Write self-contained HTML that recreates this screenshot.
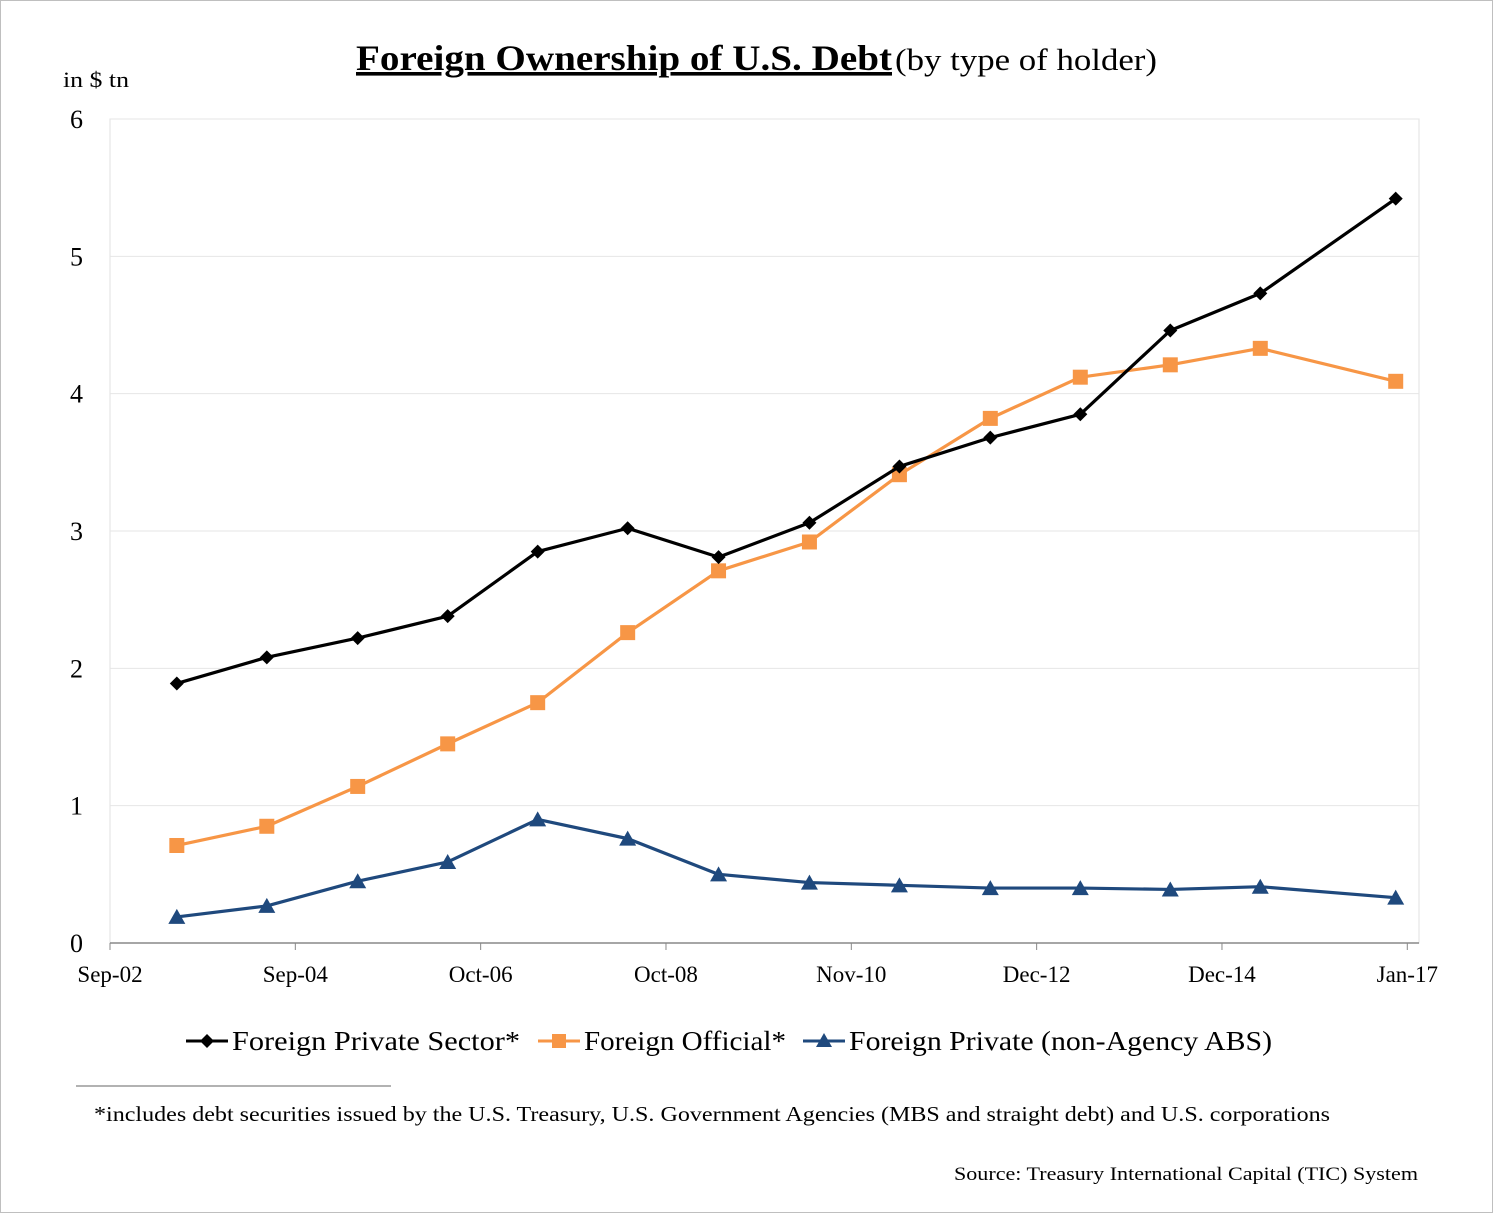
<!DOCTYPE html>
<html><head><meta charset="utf-8"><style>
html,body{margin:0;padding:0;background:#fff}
svg{display:block}
text{font-family:"Liberation Serif","DejaVu Serif",serif;fill:#000}
</style></head><body>
<svg id="chart" width="1493" height="1213" viewBox="0 0 1493 1213" xmlns="http://www.w3.org/2000/svg">
<rect x="0.5" y="0.5" width="1492" height="1212" fill="#fff" stroke="#bfbfbf"/>
<text x="356" y="70" font-size="36" font-weight="bold" text-decoration="underline" textLength="536" lengthAdjust="spacingAndGlyphs">Foreign Ownership of U.S. Debt</text>
<text x="895" y="70" font-size="31" textLength="262" lengthAdjust="spacingAndGlyphs">(by type of holder)</text>
<text x="63" y="87" font-size="22" textLength="66" lengthAdjust="spacingAndGlyphs">in $ tn</text>
<rect x="110" y="119" width="1309" height="824" fill="none" stroke="#e0e0e0"/>
<g id="grid"></g><g id="axes"></g><g id="series"></g>
<g>
 <g>
  <line x1="186" y1="1041" x2="228" y2="1041" stroke="#000" stroke-width="3"/>
  <path d="M207 1034 L214 1041 L207 1048 L200 1041Z" fill="#000"/>
  <text x="232" y="1050" font-size="27" textLength="288" lengthAdjust="spacingAndGlyphs">Foreign Private Sector*</text>
 </g>
 <g>
  <line x1="538" y1="1041" x2="580" y2="1041" stroke="#F79646" stroke-width="3"/>
  <rect x="552" y="1034" width="14" height="14" fill="#F79646"/>
  <text x="584" y="1050" font-size="27" textLength="202" lengthAdjust="spacingAndGlyphs">Foreign Official*</text>
 </g>
 <g>
  <line x1="803" y1="1041" x2="845" y2="1041" stroke="#1F497D" stroke-width="3"/>
  <path d="M824 1033 L832 1047 L816 1047Z" fill="#1F497D"/>
  <text x="849" y="1050" font-size="27" textLength="423" lengthAdjust="spacingAndGlyphs">Foreign Private (non-Agency ABS)</text>
 </g>
</g>
<line x1="76" y1="1086" x2="391" y2="1086" stroke="#999" stroke-width="1.5"/>
<text x="94" y="1121" font-size="21" textLength="1236" lengthAdjust="spacingAndGlyphs">*includes debt securities issued by the U.S. Treasury, U.S. Government Agencies  (MBS and straight debt) and  U.S. corporations</text>
<text x="954" y="1180" font-size="19" textLength="464" lengthAdjust="spacingAndGlyphs">Source:  Treasury International Capital (TIC) System</text>
</svg>
<script>
const dates=[2003.42,2004.43,2005.45,2006.46,2007.47,2008.48,2009.50,2010.52,2011.53,2012.55,2013.56,2014.57,2015.58,2017.10];
const privateSector=[1.89,2.08,2.22,2.38,2.85,3.02,2.81,3.06,3.47,3.68,3.85,4.46,4.73,5.42];
const official=[0.71,0.85,1.14,1.45,1.75,2.26,2.71,2.92,3.41,3.82,4.12,4.21,4.33,4.09];
const nonAgency=[0.19,0.27,0.45,0.59,0.90,0.76,0.50,0.44,0.42,0.40,0.40,0.39,0.41,0.33];
const yTicks=[0,1,2,3,4,5,6];
const xTickLabels=["Sep-02","Sep-04","Oct-06","Oct-08","Nov-10","Dec-12","Dec-14","Jan-17"];
const xTickDates=[2002.67,2004.75,2006.83,2008.91,2010.99,2013.07,2015.15,2017.23];

const NS="http://www.w3.org/2000/svg";
const X0=110,X1=1419,Y0=943,Y1=119,D0=2002.67,PPY=89.1;
const xs=d=>X0+(d-D0)*PPY;
const ys=v=>Y0-(v/6)*(Y0-Y1);
function mk(tag,attrs,parent){const e=document.createElementNS(NS,tag);for(const k in attrs)e.setAttribute(k,attrs[k]);parent.appendChild(e);return e;}
const grid=document.getElementById('grid'),axes=document.getElementById('axes'),ser=document.getElementById('series');
yTicks.forEach(t=>{
  if(t>0){const g=mk('line',{x1:X0,x2:X1,y1:ys(t),y2:ys(t),stroke:'#e6e6e6'},grid);
  
  }
  const l=mk('text',{x:83,y:ys(t)+9,'font-size':26,'text-anchor':'end'},axes);l.textContent=t;
  
  
});
const ax=mk('line',{x1:X0,x2:X1,y1:Y0,y2:Y0,stroke:'#888','stroke-width':1.5},axes);


xTickLabels.forEach((lab,i)=>{
  const x=xs(xTickDates[i]);
  const tk=mk('line',{x1:x,x2:x,y1:Y0,y2:Y0+7,stroke:'#888'},axes);
  
  
  const t=mk('text',{x:x,y:982,'font-size':23,'text-anchor':'middle'},axes);t.textContent=lab;
  
  
});
function drawSeries(vals,color,shape,name){
  const g=mk('g',{},ser);
  
  
  const pts=vals.map((v,i)=>xs(dates[i])+','+ys(v)).join(' ');
  mk('polyline',{points:pts,fill:'none',stroke:color,'stroke-width':3.2,'stroke-linejoin':'round'},g);
  vals.forEach((v,i)=>{
    const x=xs(dates[i]),y=ys(v);let m;
    if(shape==='diamond')m=mk('path',{d:`M${x} ${y-7}L${x+7} ${y}L${x} ${y+7}L${x-7} ${y}Z`,fill:color},g);
    else if(shape==='square')m=mk('rect',{x:x-7.5,y:y-7.5,width:15,height:15,fill:color},g);
    else m=mk('path',{d:`M${x} ${y-8}L${x+8.5} ${y+7}L${x-8.5} ${y+7}Z`,fill:color},g);
    
    
  });
}
drawSeries(official,'#F79646','square','series-foreign-official');
drawSeries(nonAgency,'#1F497D','triangle','series-non-agency-abs');
drawSeries(privateSector,'#000000','diamond','series-private-sector');
</script>
</body></html>
